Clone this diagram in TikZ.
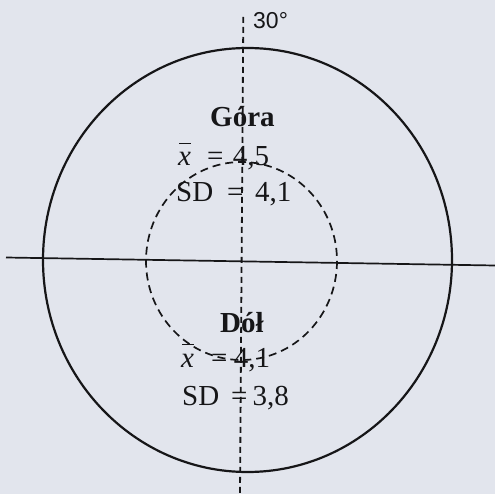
\documentclass[tikz,border=0pt]{standalone}
\usepackage{fontspec}
\setmainfont{Liberation Serif}
\newfontfamily\labelsans{Liberation Sans}
\definecolor{paper}{RGB}{226,229,237}
\definecolor{ink}{RGB}{22,22,24}
\newcommand{\meanx}{\rlap{\kern1pt\rule[0.76em]{0.42em}{1.3pt}}\textit{x}}
\begin{document}
\begin{tikzpicture}[x=1pt,y=-1pt,
  solidline/.style={draw=ink,line width=2.2pt},
  dashline/.style={draw=ink,line width=1.8pt,dash pattern=on 6pt off 4pt},
  dashcirc/.style={draw=ink,line width=1.7pt,dash pattern=on 8pt off 5pt},
  statlabel/.style={text=ink,inner sep=0pt,anchor=base west,font=\fontsize{29}{34}\selectfont},
  titlelabel/.style={statlabel,font=\fontsize{29}{34}\selectfont\bfseries},
  anglelabel/.style={text=ink,inner sep=0pt,anchor=base west,font=\labelsans\fontsize{23}{27}\selectfont}]
  \fill[paper] (0,0) rectangle (495,494);
  \useasboundingbox (0,0) rectangle (495,494);
  % axes
  \coordinate (hl) at (6,257.5);
  \coordinate (hr) at (495,265.5);
  \coordinate (vt) at (243.3,17);
  \coordinate (vb) at (240,494);
  \draw[solidline,line width=1.7pt] (hl) -- (hr);
  \draw[dashline] (vt) -- (vb);
  % circles
  \coordinate (outerc) at (247.5,260);
  \coordinate (innerc) at (241.5,261);
  \draw[solidline] (outerc) ellipse [x radius=204.5, y radius=212];
  \draw[dashcirc] (innerc) ellipse [x radius=95.5, y radius=99];
  % labels
  \node[anglelabel] (ang) at (253,29) {30°};
  \node[titlelabel] (gora) at (210,126.7) {Góra};
  \node[statlabel] (gmean) at (178,166) {\meanx\hspace{16pt}=\hspace{9.5pt}4,5};
  \node[statlabel] (gsd) at (176,201.7) {SD\hspace{14pt}=\hspace{11.5pt}4,1};
  \node[titlelabel] (dol) at (220,332) {Dół};
  \node[statlabel] (dmean) at (181,367) {\meanx\hspace{17pt}=\hspace{6.5pt}4,1};
  \node[statlabel] (dsd) at (182,405) {SD\hspace{12pt}=\hspace{5pt}3,8};
\end{tikzpicture}
\end{document}
